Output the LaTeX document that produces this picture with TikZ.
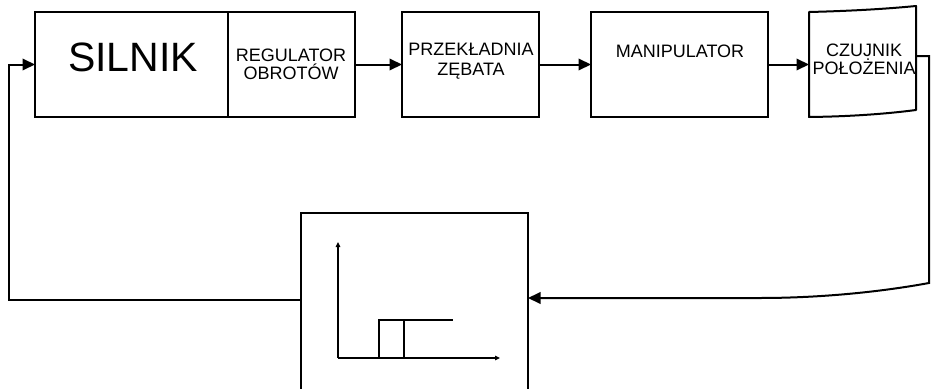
\documentclass[tikz,border=0pt]{standalone}
\usepackage{fontspec}
\setmainfont{Liberation Sans}
\usetikzlibrary{arrows.meta}
\begin{document}
\begin{tikzpicture}[x=1pt,y=-1pt,
  blk/.style={draw, line width=2pt, inner sep=0pt, outer sep=0pt},
  ghost/.style={inner sep=0pt, outer sep=0pt},
  lbl/.style={font=\fontsize{18}{20}\selectfont, align=center, inner sep=0pt},
  big/.style={font=\fontsize{41}{44}\selectfont, inner sep=0pt},
  conn/.style={line width=2pt, -{Triangle[length=12.5pt,width=11.5pt]}},
  axis/.style={line width=1.2pt, -{Triangle[length=5pt,width=4.5pt]}},
  stepln/.style={line width=1.6pt}]
\clip (0,0) rectangle (936,388);
\fill[white] (0,0) rectangle (936,388);
% blocks
\node[blk, minimum width=320pt, minimum height=105pt] (silnik) at (195,64.5) {};
\draw[blk] (228,12) -- (228,117);
\node[blk, minimum width=137pt, minimum height=105pt] (przek) at (470.5,64.5) {};
\node[blk, minimum width=177pt, minimum height=105pt] (manip) at (679.5,64.5) {};
\node[ghost, minimum width=107pt, minimum height=105pt] (czuj) at (862.5,64.5) {};
\draw[line width=2pt, line join=round]
  (809,12) .. controls (850,11) and (885,9) .. (916,6)
  -- (916,110) .. controls (885,114) and (850,116.5) .. (809,117) -- cycle;
\node[blk, minimum width=227pt, minimum height=207pt] (ctrl) at (414.5,316.5) {};
% texts
\node[big] (tsil) at (133,57) {SILNIK};
\node[lbl, font=\fontsize{18}{18}\selectfont] (treg) at (291,64) {REGULATOR\\OBROTÓW};
\node[lbl, font=\fontsize{18}{20}\selectfont] (tprz) at (471,61.5) {PRZEKŁADNIA\\ZĘBATA};
\node[lbl] (tman) at (680,51) {MANIPULATOR};
\node[lbl, font=\fontsize{18}{18.5}\selectfont] (tczu) at (864,59.5) {CZUJNIK\\POŁOŻENIA};
% forward connectors
\draw[conn] (silnik.east) -- (przek.west);
\draw[conn] (przek.east) -- (manip.west);
\draw[conn] (manip.east) -- (czuj.west);
% feedback
\coordinate (fbstart) at (916,56);
\coordinate (fbin) at (528,298);
\coordinate (fbout) at (301,300);
\draw[conn] (fbstart) -- (929,56) -- (929,283)
  .. controls (880,292) and (820,298) .. (760,298) -- (fbin);
\draw[conn] (fbout) -| ([xshift=-26pt]silnik.west) -- (silnik.west);
% inner characteristic
\coordinate (org) at (338,358);
\coordinate (ytop) at (338,242);
\coordinate (xend) at (500,358);
\draw[axis] (org) -- (ytop);
\draw[axis] (org) -- (xend);
\draw[stepln] (379,358) -- (379,320) -- (453,320);
\draw[stepln] (404,320) -- (404,358);
\end{tikzpicture}
\end{document}
